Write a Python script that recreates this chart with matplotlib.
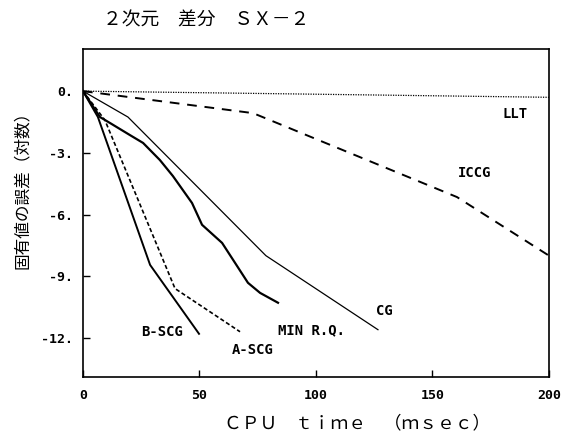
import matplotlib.pyplot as plt

plt.rcParams['font.family'] = ['Noto Sans CJK JP', 'DejaVu Sans']

# 読み取り値 (CPU time [msec], 固有値の誤差 log10)
llt_x = [0, 200]
llt_y = [0, -0.3]
iccg_x = [0, 73, 160.5, 200]
iccg_y = [0, -1.07, -5.15, -8.0]
cg_x = [0, 19.3, 78.5, 126.6]
cg_y = [0, -1.26, -8.0, -11.6]
minrq_x = [0, 7.3, 11.6, 20.2, 25.8, 33.0, 38.6, 46.8, 51.1, 59.7, 64.4, 70.8, 76.0, 83.7]
minrq_y = [0, -1.26, -1.55, -2.14, -2.52, -3.35, -4.13, -5.44, -6.50, -7.38, -8.20, -9.32, -9.81, -10.29]
bscg_x = [0, 6.4, 28.8, 49.8]
bscg_y = [0, -1.26, -8.45, -11.8]
ascg_x = [0, 9.4, 39.5, 67.4]
ascg_y = [0, -1.41, -9.6, -11.7]

yticks = [0, -3, -6, -9, -12]
ytick_labels = ["0.", "-3.", "-6.", "-9.", "-12."]
xticks = [0, 50, 100, 150, 200]
xtick_labels = ["0", "50", "100", "150", "200"]

fig = plt.figure(figsize=(5.7, 4.4), dpi=100)
ax = fig.add_axes([0.1456, 0.1432, 0.8175, 0.7455])

ax.plot(llt_x, llt_y, color="black", lw=0.9, linestyle=(0, (1, 1)))
ax.plot(iccg_x, iccg_y, color="black", lw=1.4, linestyle=(0, (5, 4)))
ax.plot(cg_x, cg_y, color="black", lw=0.9)
ax.plot(minrq_x, minrq_y, color="black", lw=1.6)
ax.plot(bscg_x, bscg_y, color="black", lw=1.4)
ax.plot(ascg_x, ascg_y, color="black", lw=1.2, linestyle=(0, (2.5, 1.5)))

lab = dict(family="DejaVu Sans Mono", fontsize=10, fontweight="bold",
           ha="center", va="center")
ax.text(185.4, -1.12, "LLT", **lab)
ax.text(168.2, -3.98, "ICCG", **lab)
ax.text(129.2, -10.68, "CG", **lab)
ax.text(97.9, -11.65, "MIN R.Q.", **lab)
ax.text(33.9, -11.70, "B-SCG", **lab)
ax.text(73.0, -12.57, "A-SCG", **lab)

ax.set_xlim(0, 200)
ax.set_ylim(-13.9, 2.05)
ax.set_xticks(xticks)
ax.set_xticklabels(xtick_labels, family="DejaVu Sans Mono", fontsize=9.5, fontweight="bold")
ax.set_yticks(yticks)
ax.set_yticklabels(ytick_labels, family="DejaVu Sans Mono", fontsize=9.5, fontweight="bold")
ax.tick_params(axis="x", direction="in", length=5, width=1, pad=9)
ax.tick_params(axis="y", direction="in", length=5, width=1, pad=7)
for s in ax.spines.values():
    s.set_linewidth(1.2)

fig.text(0.181, 0.955, "２次元　差分　ＳＸ－２", ha="left", va="center", fontsize=13.5)
fig.text(0.626, 0.039, "ＣＰＵ　ｔｉｍｅ　（ｍｓｅｃ）", ha="center", va="center", fontsize=12.8)
fig.text(0.039, 0.577, "固有値の誤差（対数）", ha="center", va="center",
         rotation=90, fontsize=12)

fig.savefig("out.png", dpi=100)
